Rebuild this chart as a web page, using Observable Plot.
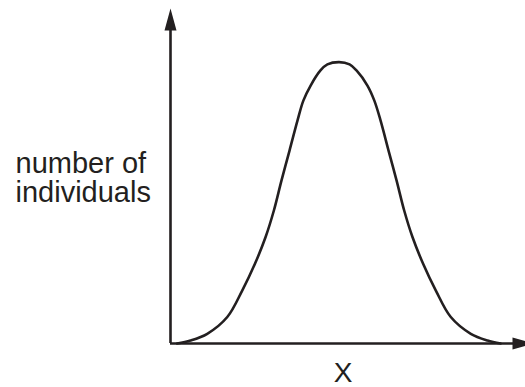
<!DOCTYPE html>
<html>
<head>
<meta charset="utf-8">
<script src="https://cdn.jsdelivr.net/npm/d3@7"></script>
<script src="https://cdn.jsdelivr.net/npm/@observablehq/plot@0.6"></script>
<style>
  html, body { margin: 0; padding: 0; background: #fff; overflow: hidden; }
  #chart svg { display: block; }
</style>
</head>
<body>
<div id="chart"></div>
<script>
// Curve (x: trait value, y: number of individuals), 0–100 units
const curveX = [1.8, 5.5, 10.1, 15.6, 19.7, 23.2, 26.1, 28.4, 30.5, 32.7, 34.9, 36.5, 38.5, 41.2, 43.1, 46.3,
                49.2, 51.1, 54.1, 56.0, 57.7, 59.9, 62.1, 64.2, 66.5, 69.4, 72.9, 77.0, 82.5, 87.1, 90.7];
const curveY = [0.0, 0.9, 2.9, 7.9, 15.8, 23.8, 31.7, 39.7, 48.7, 57.6, 66.6, 72.5, 77.0, 81.5, 83.3, 84.0,
                83.3, 81.5, 77.0, 72.5, 66.6, 57.6, 48.7, 39.7, 31.7, 23.8, 15.8, 7.9, 2.9, 0.9, 0.0];

const yLabelLines = ["number of", "individuals"];
const xLabel = "X";
const axisEnds = [{axis: "y", x: 0, y: 100, rotate: 0}, {axis: "x", x: 100, y: 0, rotate: 90}];

const ink = "#231f20";
const curve = curveX.map((x, i) => ({x, y: curveY[i]}));

// filled, narrow arrowhead with its tip at the anchor point
const arrowHead = {
  draw(ctx) {
    ctx.moveTo(0, 0);
    ctx.lineTo(6, 22);
    ctx.lineTo(-6, 22);
    ctx.closePath();
  }
};

const chart = Plot.plot({
  width: 525,
  height: 387,
  marginLeft: 170,
  marginRight: 0,
  marginTop: 8,
  marginBottom: 44,
  style: {background: "#fff", fontFamily: "'Liberation Sans', Arial, sans-serif", overflow: "hidden"},
  x: {domain: [0, 100], range: [170, 534], axis: null},
  y: {domain: [0, 100], range: [343, 8], axis: null},
  marks: [
    Plot.ruleX([0], {y1: 0, y2: 95, stroke: ink, strokeWidth: 2.6}),
    Plot.ruleY([0], {x1: 0, x2: 96, stroke: ink, strokeWidth: 2.6}),
    Plot.dot(axisEnds, {x: "x", y: "y", rotate: "rotate", symbol: arrowHead, fill: ink, stroke: null, r: 5}),
    Plot.line(curve, {x: "x", y: "y", curve: "catmull-rom", stroke: ink, strokeWidth: 2.6}),
    Plot.text([yLabelLines.join("\n")], {
      frameAnchor: "left", dx: -155, dy: 2, textAnchor: "start", lineAnchor: "middle",
      lineHeight: 1.0, fontSize: 29, fill: ink
    }),
    Plot.text([xLabel], {
      frameAnchor: "bottom", dx: -5, dy: 30, lineAnchor: "middle",
      fontSize: 28, fill: ink
    })
  ]
});
document.getElementById("chart").appendChild(chart);
</script>
</body>
</html>
